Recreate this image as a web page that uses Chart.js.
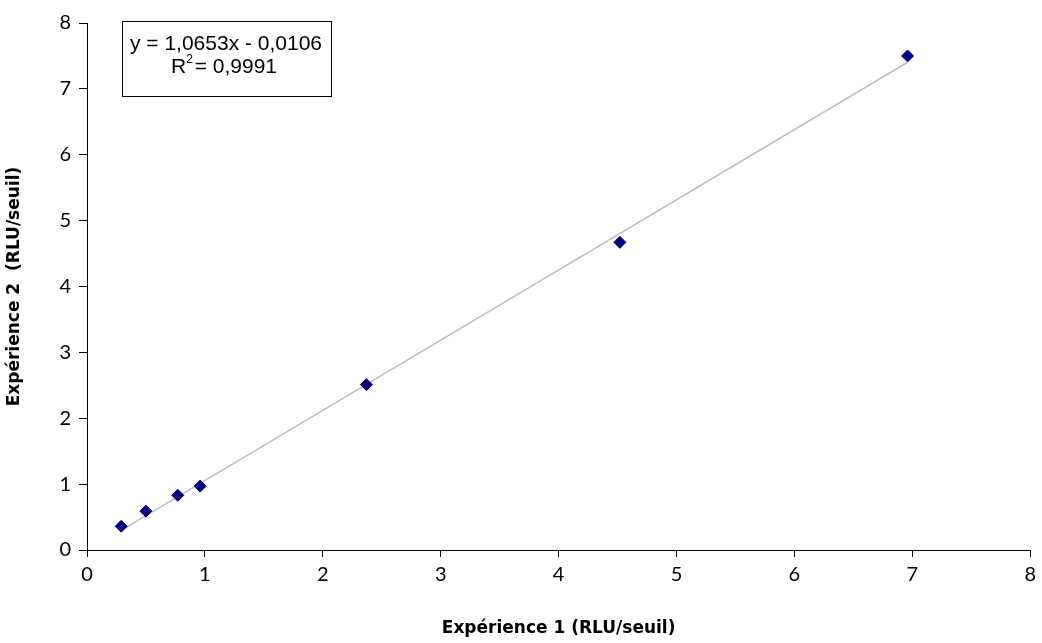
<!DOCTYPE html>
<html>
<head>
<meta charset="utf-8">
<script src="https://cdn.jsdelivr.net/npm/chart.js@4/dist/chart.umd.min.js"></script>
<style>
  html, body { margin: 0; padding: 0; background: #fff; }
  #wrap { width: 1042px; height: 643px; }
</style>
</head>
<body>
<div id="wrap"><canvas id="chart"></canvas></div>
<script>
// ========== DATA ==========
const exp1 = [0.29, 0.50, 0.77, 0.96, 2.37, 4.52, 6.96];
const exp2 = [0.36, 0.59, 0.83, 0.97, 2.51, 4.67, 7.50];
const slope = 1.0653;
const intercept = -0.0106;
const eqLines = ['y = 1,0653x - 0,0106', 'R² = 0,9991'];
const xTitle = 'Expérience 1 (RLU/seuil)';
const yTitle = 'Expérience 2  (RLU/seuil)';

const points = exp1.map((x, i) => ({ x: x, y: exp2[i] }));
const xMin = Math.min(...exp1), xMax = Math.max(...exp1);
const trend = [xMin, xMax].map(x => ({ x: x, y: slope * x + intercept }));

const tickFont = { family: 'Lato, "Open Sans", sans-serif', size: 20 };
const titleFont = { family: '"DejaVu Sans", sans-serif', size: 17, weight: 'bold' };
const eqFont = '21px "Liberation Sans", Arial, sans-serif';
const supFont = '12px "Liberation Sans", Arial, sans-serif';

// equation box (text annotation, like Excel's trendline label)
const eqBox = {
    id: 'eqBox',
    afterDraw(chart) {
        const ctx = chart.ctx;
        ctx.save();
        ctx.strokeStyle = '#000';
        ctx.lineWidth = 1;
        ctx.strokeRect(122.5, 21.5, 209, 75);
        ctx.fillStyle = '#000';
        ctx.font = eqFont;
        ctx.textAlign = 'center';
        ctx.textBaseline = 'middle';
        ctx.fillText(eqLines[0], 226, 44);
        // R² with raised 2
        const r = 'R', rest = ' = 0,9991';
        const wR = ctx.measureText(r).width;
        const wRest = ctx.measureText(rest).width;
        ctx.font = supFont;
        const w2 = ctx.measureText('2').width;
        const x0 = 226 - (wR + w2 + wRest) / 2;
        ctx.textAlign = 'left';
        ctx.fillText('2', x0 + wR, 60);
        ctx.font = eqFont;
        ctx.fillText(r, x0, 67);
        ctx.fillText(rest, x0 + wR + w2 - 4, 67);
        ctx.restore();
    }
};

new Chart(document.getElementById('chart'), {
    type: 'scatter',
    data: {
        datasets: [
            { type: 'line', data: trend, borderColor: '#BEBEBE', borderWidth: 1.5, pointRadius: 0, fill: false, order: 2 },
            { data: points, pointStyle: 'rectRot', pointRadius: 6, backgroundColor: '#000080', borderColor: '#000080', borderWidth: 1, order: 1 }
        ]
    },
    options: {
        responsive: true, maintainAspectRatio: false, animation: false,
        layout: { padding: { top: 23, right: 9, left: 0, bottom: 0 } },
        plugins: { legend: { display: false }, tooltip: { enabled: false } },
        scales: {
            x: {
                type: 'linear', min: 0, max: 8,
                ticks: { stepSize: 1, color: '#000', font: tickFont, padding: 6 },
                grid: { drawOnChartArea: false, drawTicks: true, tickLength: 7, color: '#000' },
                border: { color: '#000', width: 1 },
                title: { display: true, text: xTitle, color: '#000', font: titleFont, padding: { top: 18 } },
                afterFit: (s) => { s.height = 93; }
            },
            y: {
                type: 'linear', min: 0, max: 8,
                ticks: { stepSize: 1, color: '#000', font: tickFont, padding: 8 },
                grid: { drawOnChartArea: false, drawTicks: true, tickLength: 8, color: '#000' },
                border: { color: '#000', width: 1 },
                title: { display: true, text: yTitle, color: '#000', font: titleFont, padding: { bottom: 16 } },
                afterFit: (s) => { s.width = 87; }
            }
        }
    },
    plugins: [eqBox]
});
</script>
</body>
</html>
